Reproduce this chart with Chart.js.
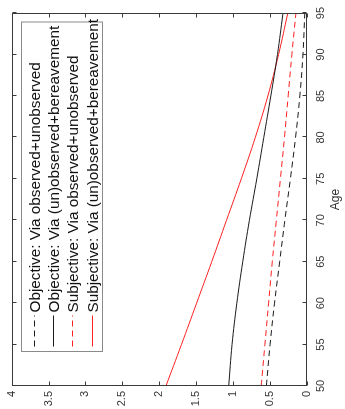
<!DOCTYPE html>
<html>
<head>
<meta charset="utf-8">
<script src="https://cdn.jsdelivr.net/npm/chart.js@4/dist/chart.umd.min.js"></script>
<style>
  html, body { margin: 0; padding: 0; background: #fff; overflow: hidden; }
  /* the figure is laid out landscape and turned a quarter turn */
  #wrap {
    position: absolute; left: 0; top: 0;
    width: 409px; height: 345px;
    transform-origin: 0 0;
    transform: translate(0, 409px) rotate(-90deg);
  }
</style>
</head>
<body>
<div id="wrap"><canvas id="c" width="409" height="345"></canvas></div>
<script>
// Ages on the horizontal axis
const ages = [50, 55, 60, 65, 70, 75, 80, 85, 90, 95];

// Series values by age
const objectiveObsUnobs   = [0.55, 0.50, 0.44, 0.37, 0.30, 0.225, 0.155, 0.097, 0.055, 0.03];
const objectiveBereave    = [1.06, 1.015, 0.95, 0.87, 0.78, 0.68, 0.585, 0.49, 0.40, 0.325];
const subjectiveObsUnobs  = [0.62, 0.57, 0.52, 0.47, 0.415, 0.36, 0.305, 0.255, 0.205, 0.15];
const subjectiveBereave   = [1.91, 1.70, 1.495, 1.29, 1.09, 0.89, 0.70, 0.53, 0.385, 0.26];

const seriesLabels = [
  'Objective: Via observed+unobserved',
  'Objective: Via (un)observed+bereavement',
  'Subjective: Via observed+unobserved',
  'Subjective: Via (un)observed+bereavement'
];

// Tick labels
const ageTicks = [50, 55, 60, 65, 70, 75, 80, 85, 90, 95];
const valueTicks = [0, 0.5, 1, 1.5, 2, 2.5, 3, 3.5, 4];

const BLACK = '#1a1a1a';
const RED = '#ff2020';
const AXIS = '#3a3a3a';
const FONT = 'Arial, "Liberation Sans", Helvetica, sans-serif';

const toPoints = vals => ages.map((a, i) => ({ x: a, y: vals[i] }));

const series = [
  { label: seriesLabels[0], values: objectiveObsUnobs,  color: BLACK, dash: [6, 4] },
  { label: seriesLabels[1], values: objectiveBereave,   color: BLACK, dash: [] },
  { label: seriesLabels[2], values: subjectiveObsUnobs, color: RED,   dash: [6, 4] },
  { label: seriesLabels[3], values: subjectiveBereave,  color: RED,   dash: [] }
];

// Box outline, inward ticks on all four sides, and the boxed legend
const framePlugin = {
  id: 'frame',
  afterDatasetsDraw(chart) {
    const { ctx, chartArea: a, scales } = chart;
    const L = Math.round(a.left) + 0.5, R = Math.round(a.right) - 0.5;
    const T = Math.round(a.top) + 0.5, B = Math.round(a.bottom) - 0.5;
    ctx.save();
    ctx.strokeStyle = AXIS;
    ctx.lineWidth = 1;
    ctx.setLineDash([]);
    ctx.strokeRect(L, T, R - L, B - T);
    const tl = 4;
    ctx.beginPath();
    ageTicks.forEach(v => {
      const px = Math.round(scales.x.getPixelForValue(v)) + 0.5;
      ctx.moveTo(px, B); ctx.lineTo(px, B - tl);
      ctx.moveTo(px, T); ctx.lineTo(px, T + tl);
    });
    valueTicks.forEach(v => {
      const py = Math.round(scales.y.getPixelForValue(v)) + 0.5;
      ctx.moveTo(L, py); ctx.lineTo(L + tl, py);
      ctx.moveTo(R, py); ctx.lineTo(R - tl, py);
    });
    ctx.stroke();

    // legend
    const bx = Math.round(a.left + 34) + 0.5, by = Math.round(a.top + 9) + 0.5;
    const bw = Math.round(a.right - 9) - bx, bh = 81;
    ctx.fillStyle = '#fff';
    ctx.fillRect(bx, by, bw, bh);
    ctx.strokeStyle = '#8a8a8a';
    ctx.strokeRect(bx, by, bw, bh);
    ctx.font = '15.3px ' + FONT;
    ctx.textBaseline = 'middle';
    ctx.textAlign = 'left';
    chart.data.datasets.forEach((ds, i) => {
      const cy = Math.round(by + 12 + i * 19.4) + 0.5;
      ctx.strokeStyle = ds.borderColor;
      ctx.setLineDash(ds.borderDash || []);
      ctx.beginPath();
      ctx.moveTo(bx + 5, cy); ctx.lineTo(bx + 36, cy);
      ctx.stroke();
      ctx.fillStyle = '#111';
      ctx.fillText(ds.label, bx + 39, cy + 1);
    });
    ctx.restore();
  }
};

new Chart(document.getElementById('c'), {
  type: 'scatter',
  data: {
    datasets: series.map(s => ({
      label: s.label,
      data: toPoints(s.values),
      showLine: true,
      borderColor: s.color,
      backgroundColor: s.color,
      borderWidth: 1,
      borderDash: s.dash,
      pointRadius: 0,
      tension: 0.4
    }))
  },
  options: {
    responsive: false,
    animation: false,
    devicePixelRatio: 1,
    layout: { padding: { top: 8, right: 6, left: 0, bottom: 0 } },
    plugins: { legend: { display: false }, tooltip: { enabled: false } },
    scales: {
      x: {
        type: 'linear', min: 50, max: 95,
        afterBuildTicks: s => { s.ticks = ageTicks.map(v => ({ value: v })); },
        afterFit: s => { s.height = 38; },
        grid: { display: false, drawTicks: false },
        border: { display: false },
        ticks: { font: { size: 11, family: FONT }, color: '#333', padding: 7, maxRotation: 0, autoSkip: false },
        title: { display: true, text: 'Age', font: { size: 12, family: FONT }, color: '#333', padding: { top: 0, bottom: 2 } }
      },
      y: {
        type: 'linear', min: 0, max: 4,
        afterBuildTicks: s => { s.ticks = valueTicks.map(v => ({ value: v })); },
        afterFit: s => { s.width = 23; },
        grid: { display: false, drawTicks: false },
        border: { display: false },
        ticks: { font: { size: 11, family: FONT }, color: '#333', padding: 5, autoSkip: false, callback: v => String(v) }
      }
    }
  },
  plugins: [framePlugin]
});
</script>
</body>
</html>
